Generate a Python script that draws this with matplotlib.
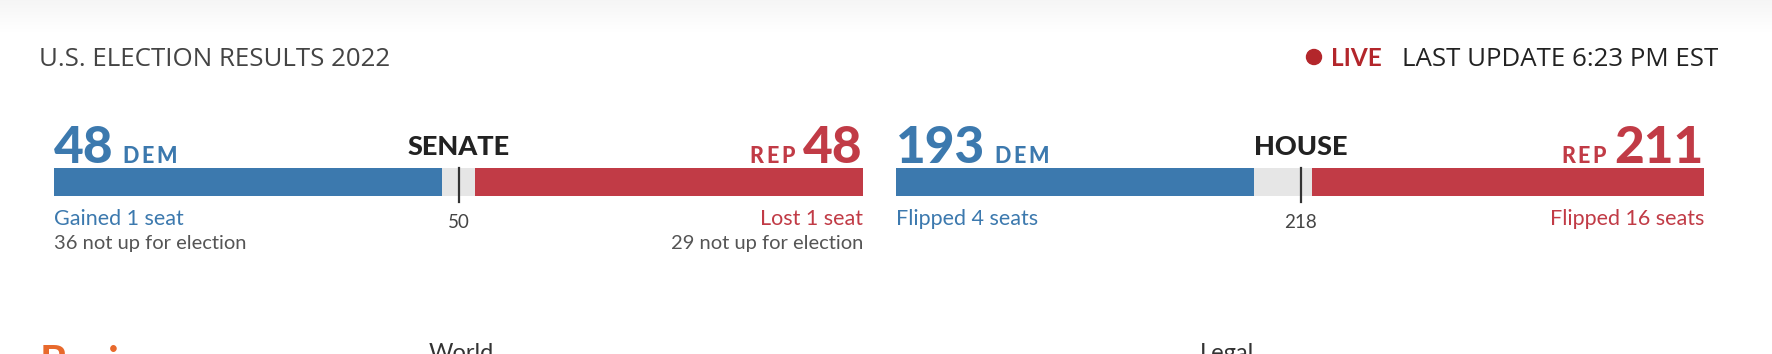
import matplotlib
matplotlib.use("Agg")
import matplotlib.pyplot as plt
from matplotlib.patches import Circle
import numpy as np

W, H = 1772, 354

# chamber data
chambers = ["SENATE", "HOUSE"]
total_seats = [100, 435]
dem_seats = [48, 193]
rep_seats = [48, 211]
majority = [50, 218]
dem_notes = ["Gained 1 seat", "Flipped 4 seats"]
rep_notes = ["Lost 1 seat", "Flipped 16 seats"]
dem_not_up = ["36 not up for election", ""]
rep_not_up = ["29 not up for election", ""]

title = "U.S. ELECTION RESULTS 2022"
update = "LAST UPDATE 6:23 PM EST"

BLUE = "#3c79ae"
RED = "#c13b46"
GRAY = "#e6e6e6"
LIVE_RED = "#b3262b"

plt.rcParams["font.family"] = ["Lato", "DejaVu Sans"]
HEAD_FONT = ["Open Sans", "DejaVu Sans"]

fig = plt.figure(figsize=(W / 100, H / 100), dpi=100)
fig.patch.set_facecolor("white")

# overlay in pixel coords (y from top)
bg = fig.add_axes([0, 0, 1, 1])
shade = np.linspace(0.96, 1.0, 36).reshape(-1, 1)
bg.imshow(shade, cmap="gray", vmin=0, vmax=1, extent=(0, W, 36, 0), aspect="auto")
bg.set_xlim(0, W)
bg.set_ylim(H, 0)
bg.axis("off")

bar_left = [54, 896]
bar_right = [863, 1704]
bar_top, bar_bottom = 168, 196


def spaced(x, y, s, spacing, align, **kw):
    parts = [bg.text(0, y, ch, va="baseline", ha="left", **kw) for ch in s]
    r = fig.canvas.get_renderer()
    widths = [p.get_window_extent(r).width for p in parts]
    total = sum(widths) + spacing * (len(s) - 1)
    start = x if align == "left" else x - total
    for p, w in zip(parts, widths):
        p.set_x(start)
        start += w + spacing


bg.text(39, 65.7, title, fontsize=18.6, color="#444444", va="baseline", family=HEAD_FONT)
bg.text(1718, 66, update, fontsize=18.6, color="#222222", va="baseline", ha="right",
        family=HEAD_FONT)
bg.text(1382, 66, "LIVE", fontsize=17.5, weight="bold", color=LIVE_RED, va="baseline",
        ha="right", family=["Lato", "DejaVu Sans"])
bg.add_patch(Circle((1314, 57), 7.5, color=LIVE_RED))

fig.canvas.draw()
renderer = fig.canvas.get_renderer()

for i in range(len(chambers)):
    l, r = bar_left[i], bar_right[i]
    ax = fig.add_axes([l / W, 1 - bar_bottom / H, (r - l) / W, (bar_bottom - bar_top) / H])
    total = total_seats[i]
    d, p = dem_seats[i], rep_seats[i]
    ax.barh(0, d, left=0, height=1, color=BLUE)
    ax.barh(0, total - d - p, left=d, height=1, color=GRAY)
    ax.barh(0, p, left=total - p, height=1, color=RED)
    ax.set_xlim(0, total)
    ax.set_ylim(-0.5, 0.5)
    ax.axis("off")
    ax.axvline(majority[i], ymin=-0.21, ymax=1, color="#333333", lw=1.6, clip_on=False)

    mx = ax.transData.transform((majority[i], 0))[0]

    # headline numbers
    tn = bg.text(l, 162.7, str(d), fontsize=37, weight="black", color=BLUE, va="baseline", ha="left")
    bb = tn.get_window_extent(renderer)
    spaced(bb.x1 + 9, 162.7, "DEM", 2.5, "left", fontsize=15.5, weight="black", color=BLUE)

    tr = bg.text(r, 162.7, str(p), fontsize=37, weight="black", color=RED, va="baseline", ha="right")
    bb = tr.get_window_extent(renderer)
    spaced(bb.x0 - 9, 162.7, "REP", 2.5, "right", fontsize=15.5, weight="black", color=RED)

    bg.text(mx, 155, chambers[i], fontsize=19.5, weight="black", color="#222222",
            va="baseline", ha="center")

    # notes under the bar
    bg.text(l, 225, dem_notes[i], fontsize=15.5, color=BLUE, va="baseline", ha="left")
    bg.text(r, 225, rep_notes[i], fontsize=15.5, color=RED, va="baseline", ha="right")
    bg.text(l, 249.5, dem_not_up[i], fontsize=14.5, color="#555555", va="baseline", ha="left")
    bg.text(r, 249.5, rep_not_up[i], fontsize=14.5, color="#555555", va="baseline", ha="right")
    bg.text(mx, 227.7, str(majority[i]), fontsize=13.5, color="#444444", va="baseline", ha="center")

# page text below the widget, cut by the frame as in the screenshot
bg.text(40, 376, "Business", fontsize=30, weight="bold", color="#e8692c", va="baseline")
bg.text(429, 360, "World", fontsize=17, color="#333333", va="baseline")
bg.text(1200, 360, "Legal", fontsize=17, color="#333333", va="baseline")

fig.savefig("out.png", dpi=100)
